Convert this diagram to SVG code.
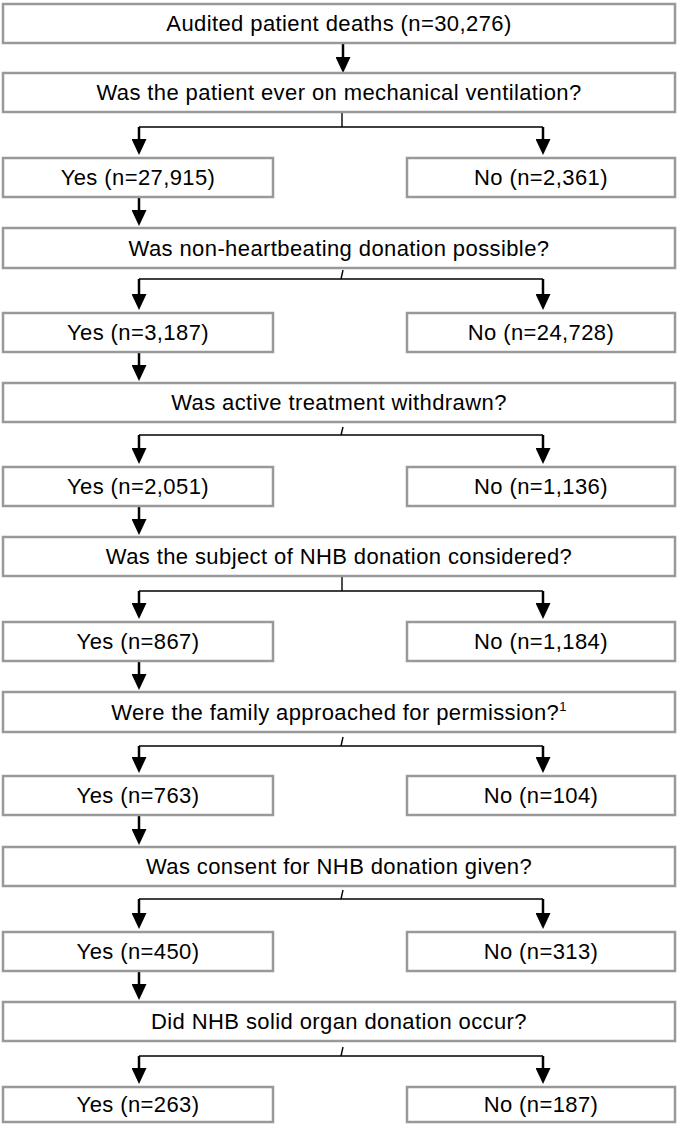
<svg xmlns="http://www.w3.org/2000/svg" width="677" height="1124" viewBox="0 0 677 1124">
<style>
.box{fill:#fff;stroke:#999;stroke-width:2.5}
.t{font-family:"Liberation Sans",Arial,sans-serif;font-size:22px;fill:#000;text-anchor:middle;letter-spacing:0.4px}
.sh{stroke:#000;stroke-width:2.5;fill:none}
.hl{stroke:#000;stroke-width:1.6;fill:none}
.st{stroke:#000;stroke-width:1.4;fill:none}
</style>
<defs>
<marker id="ah" markerUnits="userSpaceOnUse" markerWidth="16" markerHeight="15" refX="6" refY="7.5" orient="auto" viewBox="0 0 16 15"><path d="M0,0 L16,7.5 L0,15 z" fill="#000"/></marker>
</defs>
<g id="connectors">
<line class="sh" x1="343" y1="43" x2="343" y2="63" marker-end="url(#ah)"/>
<line class="st" x1="342" y1="112" x2="342" y2="127"/>
<line class="hl" x1="139" y1="127" x2="543" y2="127"/>
<line class="sh" x1="139" y1="127" x2="139" y2="145" marker-end="url(#ah)"/>
<line class="sh" x1="543" y1="127" x2="543" y2="145" marker-end="url(#ah)"/>
<line class="sh" x1="139" y1="197" x2="139" y2="216" marker-end="url(#ah)"/>
<line class="st" x1="343" y1="270" x2="341" y2="279"/>
<line class="hl" x1="139" y1="279" x2="543" y2="279"/>
<line class="sh" x1="139" y1="279" x2="139" y2="300" marker-end="url(#ah)"/>
<line class="sh" x1="543" y1="279" x2="543" y2="300" marker-end="url(#ah)"/>
<line class="sh" x1="139" y1="352" x2="139" y2="371" marker-end="url(#ah)"/>
<line class="st" x1="343" y1="427" x2="341" y2="435"/>
<line class="hl" x1="139" y1="435" x2="543" y2="435"/>
<line class="sh" x1="139" y1="435" x2="139" y2="454" marker-end="url(#ah)"/>
<line class="sh" x1="543" y1="435" x2="543" y2="454" marker-end="url(#ah)"/>
<line class="sh" x1="139" y1="506" x2="139" y2="525" marker-end="url(#ah)"/>
<line class="st" x1="342" y1="576" x2="342" y2="591"/>
<line class="hl" x1="139" y1="591" x2="543" y2="591"/>
<line class="sh" x1="139" y1="591" x2="139" y2="609" marker-end="url(#ah)"/>
<line class="sh" x1="543" y1="591" x2="543" y2="609" marker-end="url(#ah)"/>
<line class="sh" x1="139" y1="661" x2="139" y2="680" marker-end="url(#ah)"/>
<line class="st" x1="343" y1="737" x2="341" y2="746"/>
<line class="hl" x1="139" y1="746" x2="543" y2="746"/>
<line class="sh" x1="139" y1="746" x2="139" y2="763" marker-end="url(#ah)"/>
<line class="sh" x1="543" y1="746" x2="543" y2="763" marker-end="url(#ah)"/>
<line class="sh" x1="139" y1="815" x2="139" y2="835" marker-end="url(#ah)"/>
<line class="st" x1="343" y1="890" x2="341" y2="899"/>
<line class="hl" x1="139" y1="899" x2="543" y2="899"/>
<line class="sh" x1="139" y1="899" x2="139" y2="919" marker-end="url(#ah)"/>
<line class="sh" x1="543" y1="899" x2="543" y2="919" marker-end="url(#ah)"/>
<line class="sh" x1="139" y1="971" x2="139" y2="990" marker-end="url(#ah)"/>
<line class="st" x1="343" y1="1047" x2="341" y2="1056"/>
<line class="hl" x1="139" y1="1056" x2="543" y2="1056"/>
<line class="sh" x1="139" y1="1056" x2="139" y2="1074" marker-end="url(#ah)"/>
<line class="sh" x1="543" y1="1056" x2="543" y2="1074" marker-end="url(#ah)"/>
</g>
<g id="n0"><rect class="box" x="3" y="4" width="672" height="39"/><text class="t" x="339" y="31">Audited patient deaths (n=30,276)</text></g>
<g id="q1"><rect class="box" x="3" y="73" width="672" height="39"/><text class="t" x="339" y="100">Was the patient ever on mechanical ventilation?</text></g>
<g id="y1"><rect class="box" x="3" y="158" width="270" height="39"/><text class="t" x="138" y="185">Yes (n=27,915)</text></g>
<g id="no1"><rect class="box" x="407" y="158" width="268" height="39"/><text class="t" x="541" y="185">No (n=2,361)</text></g>
<g id="q2"><rect class="box" x="3" y="228" width="672" height="40"/><text class="t" x="339" y="256">Was non-heartbeating donation possible?</text></g>
<g id="y2"><rect class="box" x="3" y="313" width="270" height="39"/><text class="t" x="138" y="340">Yes (n=3,187)</text></g>
<g id="no2"><rect class="box" x="407" y="313" width="268" height="39"/><text class="t" x="541" y="340">No (n=24,728)</text></g>
<g id="q3"><rect class="box" x="3" y="383" width="672" height="39"/><text class="t" x="339" y="410">Was active treatment withdrawn?</text></g>
<g id="y3"><rect class="box" x="3" y="467" width="270" height="39"/><text class="t" x="138" y="494">Yes (n=2,051)</text></g>
<g id="no3"><rect class="box" x="407" y="467" width="268" height="39"/><text class="t" x="541" y="494">No (n=1,136)</text></g>
<g id="q4"><rect class="box" x="3" y="537" width="672" height="39"/><text class="t" x="339" y="564">Was the subject of NHB donation considered?</text></g>
<g id="y4"><rect class="box" x="3" y="622" width="270" height="39"/><text class="t" x="138" y="649">Yes (n=867)</text></g>
<g id="no4"><rect class="box" x="407" y="622" width="268" height="39"/><text class="t" x="541" y="649">No (n=1,184)</text></g>
<g id="q5"><rect class="box" x="3" y="692" width="672" height="40"/><text class="t" x="339" y="720">Were the family approached for permission?<tspan font-size="13" dy="-9">1</tspan></text></g>
<g id="y5"><rect class="box" x="3" y="776" width="270" height="39"/><text class="t" x="138" y="803">Yes (n=763)</text></g>
<g id="no5"><rect class="box" x="407" y="776" width="268" height="39"/><text class="t" x="541" y="803">No (n=104)</text></g>
<g id="q6"><rect class="box" x="3" y="847" width="672" height="39"/><text class="t" x="339" y="874">Was consent for NHB donation given?</text></g>
<g id="y6"><rect class="box" x="3" y="932" width="270" height="39"/><text class="t" x="138" y="959">Yes (n=450)</text></g>
<g id="no6"><rect class="box" x="407" y="932" width="268" height="39"/><text class="t" x="541" y="959">No (n=313)</text></g>
<g id="q7"><rect class="box" x="3" y="1002" width="672" height="39"/><text class="t" x="339" y="1029">Did NHB solid organ donation occur?</text></g>
<g id="y7"><rect class="box" x="3" y="1087" width="270" height="35"/><text class="t" x="138" y="1112">Yes (n=263)</text></g>
<g id="no7"><rect class="box" x="407" y="1087" width="268" height="35"/><text class="t" x="541" y="1112">No (n=187)</text></g>
</svg>
